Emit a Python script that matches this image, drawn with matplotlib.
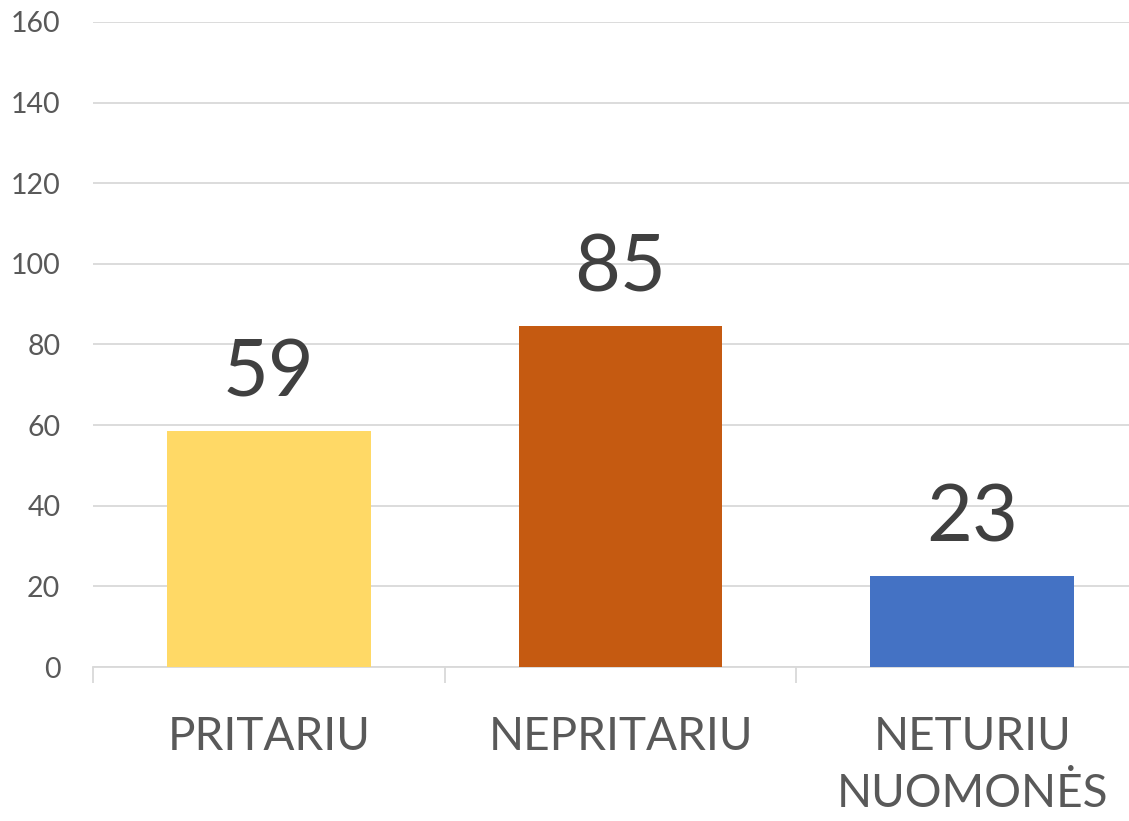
import matplotlib.pyplot as plt
from matplotlib.ticker import MultipleLocator, FixedLocator

# data
categories = ["PRITARIU", "NEPRITARIU", "NETURIU\nNUOMONĖS"]
values = [58.6, 84.6, 22.6]
bar_colors = ["#FFD966", "#C55A11", "#4472C4"]

plt.rcParams['font.family'] = ['Lato', 'DejaVu Sans']

fig = plt.figure(figsize=(11.29, 8.21), dpi=100)
ax = fig.add_axes([93 / 1129, 154 / 821, 1055 / 1129, 645 / 821])

x = list(range(len(categories)))
bars = ax.bar(x, values, width=0.58, color=bar_colors, zorder=3)

# data labels
for xi, v in zip(x, values):
    ax.annotate(f"{v:.0f}", (xi, v), xytext=(0, 25), textcoords='offset points',
                ha='center', va='baseline', fontsize=57, color='#404040')

ax.set_ylim(0, 160)
ax.set_xlim(-0.5, len(categories) - 0.5)
ax.yaxis.set_major_locator(MultipleLocator(20))
ax.grid(axis='y', color='#D9D9D9', linewidth=1.3, zorder=0)

ax.set_xticks(x)
ax.set_xticklabels(categories, fontsize=33, color='#595959', linespacing=1.45)
ax.tick_params(axis='x', which='major', length=0, pad=35)
ax.xaxis.set_minor_locator(FixedLocator([-0.5, 0.5, 1.5, 2.5]))
ax.tick_params(axis='x', which='minor', length=11.5, width=1.3, color='#D9D9D9')
ax.tick_params(axis='y', length=0, labelsize=20.5, labelcolor='#595959', pad=23.5)

for side in ['top', 'right', 'left']:
    ax.spines[side].set_visible(False)
ax.spines['bottom'].set_color('#D9D9D9')
ax.spines['bottom'].set_linewidth(1.3)

fig.savefig('out.png', dpi=100)
